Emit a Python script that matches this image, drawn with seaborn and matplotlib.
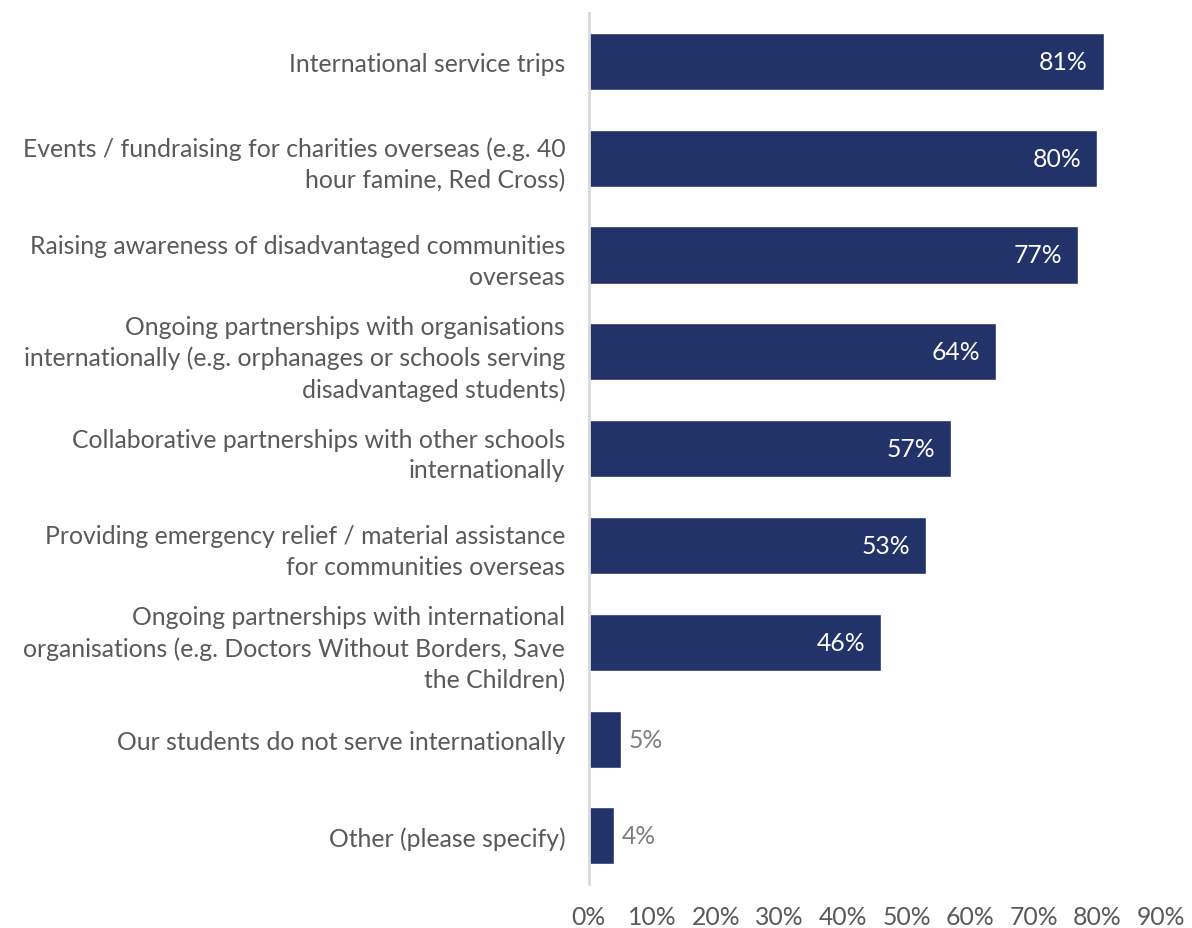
import matplotlib
matplotlib.use("Agg")
import matplotlib.pyplot as plt
import seaborn as sns
import pandas as pd

categories = [
    "International service trips",
    "Events / fundraising for charities overseas (e.g. 40\nhour famine, Red Cross)",
    "Raising awareness of disadvantaged communities\noverseas",
    "Ongoing partnerships with organisations\ninternationally (e.g. orphanages or schools serving\ndisadvantaged students)",
    "Collaborative partnerships with other schools\ninternationally",
    "Providing emergency relief / material assistance\nfor communities overseas",
    "Ongoing partnerships with international\norganisations (e.g. Doctors Without Borders, Save\nthe Children)",
    "Our students do not serve internationally",
    "Other (please specify)",
]
values = [81, 80, 77, 64, 57, 53, 46, 5, 4]
tick_values = [0, 10, 20, 30, 40, 50, 60, 70, 80, 90]
tick_labels = [f"{v}%" for v in tick_values]

sns.set_theme(style="white")
plt.rcParams["font.family"] = ["Lato", "DejaVu Sans"]

navy = "#22336a"
text_grey = "#595959"
label_grey = "#7f7f7f"
fs = 17.8

df = pd.DataFrame({"category": categories, "value": values})

fig = plt.figure(figsize=(11.92, 9.29), dpi=100)
ax = fig.add_axes([0.494, 0.047, 0.48, 0.938])

sns.barplot(data=df, y="category", x="value", orient="h", color=navy,
            saturation=1, width=0.59, ax=ax)

ax.set_xlim(0, 90)
ax.set_xticks(tick_values)
ax.set_xticklabels(tick_labels, fontsize=fs, color=text_grey)
ax.set_yticklabels(categories, fontsize=fs, color=text_grey,
                   linespacing=1.4)
ax.tick_params(axis="y", length=0, pad=17)
ax.tick_params(axis="x", length=0, pad=15)
ax.set_xlabel("")
ax.set_ylabel("")

for s in ["top", "right", "bottom"]:
    ax.spines[s].set_visible(False)
ax.spines["left"].set_color("#d9d9d9")
ax.spines["left"].set_linewidth(2)

for i, v in enumerate(values):
    if v >= 20:
        ax.text(v - 2.5, i, f"{v}%", ha="right", va="center",
                fontsize=fs, color="white")
    else:
        ax.text(v + 1.2, i, f"{v}%", ha="left", va="center",
                fontsize=fs, color=label_grey)

fig.savefig("out.png", dpi=100)
